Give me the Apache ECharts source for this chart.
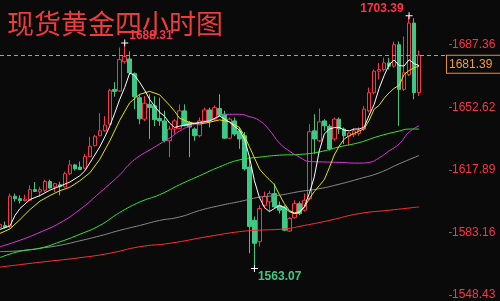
<!DOCTYPE html>
<html><head><meta charset="utf-8">
<script src="https://cdn.jsdelivr.net/npm/echarts@6/dist/echarts.min.js"></script>
<style>html,body{margin:0;padding:0;background:#0a0a0a;}#c{width:500px;height:301px;}</style>
</head><body><div id="c"></div>
<script>
const titleText = '现货黄金四小时图';
const yTicks = [1548.43, 1583.16, 1617.89, 1652.62, 1687.36];
const lastPrice = 1681.39;
const slotCount = 91;
// [open, close, low, high]
const candles = [
[1585.9,1587.6,1584.8,1588.7],[1587.0,1585.9,1585.4,1589.2],[1586.3,1603.2,1585.4,1604.7],[1603.2,1601.9,1600.3,1604.7],
[1601.9,1600.8,1599.1,1603.7],[1600.8,1601.6,1600.3,1604.1],[1601.0,1606.9,1600.6,1609.2],[1606.9,1605.9,1605.6,1611.1],
[1605.6,1606.9,1603.0,1608.5],[1606.5,1611.4,1605.6,1612.4],[1611.4,1607.8,1607.4,1612.4],[1608.4,1610.2,1605.6,1610.7],
[1609.6,1608.5,1603.7,1611.3],[1608.4,1615.7,1608.0,1616.8],[1615.7,1620.6,1615.1,1623.4],[1620.6,1618.4,1617.5,1621.2],
[1619.4,1618.0,1617.9,1622.5],[1618.8,1625.2,1618.4,1626.7],[1625.2,1630.9,1624.9,1636.2],[1631.3,1636.5,1630.9,1637.3],
[1636.8,1639.5,1636.5,1649.3],[1639.5,1642.7,1639.0,1647.6],[1643.2,1662.0,1642.7,1662.9],[1662.5,1661.4,1658.5,1666.5],
[1661.6,1679.0,1661.1,1685.7],[1677.9,1680.7,1676.8,1688.31],[1679.4,1671.7,1670.8,1683.6],[1671.2,1658.4,1651.5,1671.9],
[1657.9,1646.2,1643.2,1659.8],[1646.0,1654.8,1645.0,1658.8],[1654.2,1652.4,1635.0,1659.8],[1653.4,1645.7,1642.1,1658.7],
[1646.4,1645.0,1642.3,1657.9],[1645.0,1634.0,1633.1,1650.6],[1634.0,1640.5,1624.9,1642.3],[1640.5,1645.0,1637.7,1646.0],
[1640.9,1650.6,1640.5,1654.2],[1650.6,1642.3,1642.1,1654.2],[1644.2,1641.6,1624.9,1645.0],[1640.5,1636.8,1634.0,1641.4],
[1636.8,1645.0,1635.9,1646.9],[1645.0,1651.1,1644.3,1652.4],[1651.1,1645.0,1641.4,1652.4],[1646.0,1652.4,1645.0,1653.7],
[1651.9,1648.2,1647.8,1659.8],[1648.7,1635.4,1635.0,1650.6],[1635.4,1646.0,1635.0,1646.9],[1645.0,1637.7,1636.6,1646.9],
[1639.5,1635.0,1629.5,1641.6],[1636.8,1618.4,1617.5,1638.8],[1619.4,1586.5,1571.6,1623.9],[1589.9,1577.1,1563.07,1592.0],
[1578.0,1596.4,1575.3,1598.2],[1598.2,1603.0,1596.4,1605.8],[1600.1,1604.7,1594.7,1606.3],[1604.7,1597.3,1596.4,1610.2],
[1598.2,1595.5,1593.6,1600.3],[1597.3,1584.4,1583.9,1598.2],[1583.9,1590.9,1583.6,1591.8],[1591.3,1599.1,1590.9,1601.0],
[1599.1,1593.6,1592.7,1600.4],[1595.5,1601.0,1594.7,1604.7],[1601.9,1639.0,1601.0,1643.2],[1639.5,1635.0,1626.7,1648.7],
[1634.0,1644.5,1633.1,1651.9],[1645.0,1642.3,1639.5,1646.0],[1642.0,1629.5,1628.5,1643.2],[1635.0,1646.0,1634.0,1646.9],
[1646.0,1640.5,1637.7,1646.9],[1640.5,1636.8,1632.2,1641.4],[1636.5,1638.3,1631.3,1638.7],[1637.3,1639.5,1636.1,1641.0],
[1638.1,1639.9,1636.8,1641.4],[1640.5,1651.5,1639.5,1653.3],[1650.6,1660.7,1649.7,1663.5],[1660.7,1672.6,1659.8,1673.5],
[1672.6,1673.5,1668.0,1677.2],[1673.5,1677.2,1672.4,1680.1],[1677.2,1675.4,1673.5,1680.0],[1675.4,1687.3,1674.5,1689.1],
[1687.3,1662.5,1642.3,1689.1],[1662.5,1671.7,1661.6,1691.9],[1670.8,1699.3,1669.8,1703.39],[1699.3,1660.7,1657.0,1702.0],
[1660.7,1681.39,1658.8,1684.0]
];
const maWhite = [[0,1584.8],[2,1586.8],[3,1592.5],[4,1596.4],[5,1598.9],[6,1601.4],[8,1603.6],[10,1606.6],[12,1608.8],[14,1611.1],[16,1614.6],[17,1617.3],[18,1621.7],[19,1626.1],[20,1630.6],[21,1636.1],[22,1642.1],[23,1649.3],[24,1657.0],[25,1663.6],[26,1671.6],[27,1670.2],[28,1666.4],[29,1662.0],[30,1657.0],[31,1653.1],[32,1649.8],[33,1647.6],[34,1643.8],[35,1641.4],[36,1642.1],[38,1643.2],[40,1644.2],[42,1645.0],[44,1647.8],[46,1644.3],[48,1639.9],[49,1635.0],[50,1625.0],[51,1611.8],[52,1602.5],[53,1597.0],[54,1594.7],[55,1596.4],[56,1598.0],[57,1597.0],[58,1594.7],[59,1593.6],[60,1594.2],[61,1597.5],[62,1604.7],[63,1614.0],[64,1628.4],[65,1637.7],[66,1640.5],[67,1641.3],[68,1641.4],[69,1639.9],[70,1639.5],[71,1640.5],[72,1640.5],[73,1641.6],[74,1648.2],[75,1654.2],[76,1663.1],[77,1670.2],[78,1676.3],[79,1678.8],[80,1675.7],[81,1675.5],[82,1679.0],[83,1676.8],[84,1675.7]];
const maYellow = [[0,1582.6],[2,1585.1],[4,1590.3],[6,1595.8],[8,1600.5],[10,1603.6],[12,1606.3],[14,1608.2],[16,1611.8],[18,1616.2],[20,1623.7],[22,1633.9],[24,1645.4],[26,1655.1],[28,1659.8],[30,1661.4],[32,1659.5],[34,1653.7],[35,1650.4],[36,1646.5],[38,1644.2],[40,1643.2],[42,1644.3],[44,1645.6],[46,1644.5],[48,1641.4],[49,1636.6],[50,1630.6],[51,1624.5],[52,1618.4],[53,1615.1],[54,1612.4],[55,1609.6],[56,1604.1],[57,1599.1],[58,1595.3],[59,1594.0],[60,1594.7],[61,1596.9],[62,1601.9],[63,1605.8],[64,1609.1],[65,1612.4],[66,1619.0],[67,1626.1],[68,1631.1],[69,1635.0],[70,1636.8],[72,1639.4],[73,1640.7],[74,1645.4],[75,1651.5],[76,1653.7],[77,1657.6],[78,1660.6],[79,1663.1],[80,1664.7],[81,1670.8],[82,1673.0],[83,1674.5],[84,1675.4]];
const maMagenta = [[0,1575.2],[4,1578.8],[8,1583.2],[12,1588.4],[16,1595.8],[20,1605.2],[24,1615.1],[26,1621.2],[28,1625.6],[30,1628.9],[32,1632.2],[34,1635.5],[36,1639.4],[38,1642.1],[40,1643.8],[42,1645.0],[44,1647.4],[46,1648.7],[48,1648.7],[50,1647.4],[52,1645.2],[54,1639.9],[56,1632.8],[58,1628.3],[60,1625.0],[62,1622.5],[64,1622.3],[68,1622.0],[72,1621.6],[74,1622.0],[76,1624.5],[78,1628.4],[80,1632.2],[82,1638.8],[84,1642.3]];
const maGreen = [[0,1569.2],[4,1572.7],[8,1574.35],[12,1577.9],[16,1582.1],[20,1587.0],[24,1594.2],[28,1600.0],[32,1604.1],[36,1609.6],[40,1614.6],[44,1619.5],[48,1623.4],[52,1624.9],[56,1626.0],[60,1626.4],[64,1627.8],[68,1630.6],[72,1633.0],[76,1636.6],[80,1639.4],[82,1640.5],[84,1640.5]];
const maGray = [[0,1572.5],[4,1572.97],[8,1574.35],[12,1576.0],[16,1578.5],[20,1581.2],[24,1584.3],[28,1587.0],[32,1589.8],[36,1591.7],[40,1595.3],[44,1598.0],[48,1600.25],[52,1602.7],[56,1603.8],[60,1605.8],[64,1607.4],[68,1609.9],[72,1612.9],[76,1616.2],[80,1621.2],[84,1625.8]];
const maRed = [[0,1563.9],[8,1566.6],[16,1569.1],[22,1571.6],[28,1575.2],[34,1577.1],[42,1581.0],[48,1583.55],[52,1584.4],[57,1585.1],[61,1587.0],[66,1589.8],[72,1593.6],[78,1595.45],[84,1597.3]];
const extremes = [
  {idx: 82, value: 1703.39, kind: 'high'},
  {idx: 25, value: 1688.31, kind: 'high2'},
  {idx: 51, value: 1563.07, kind: 'low'}
];

const RED = '#ff3348', GREEN = '#3dc985', BG = '#0a0a0a';
const categories = Array.from({length: slotCount}, (_, i) => String(i));
const labelStyles = {
  high: {position: 'left', distance: 2, offset: [0, -7], color: RED},
  high2: {position: 'right', distance: 1, offset: [0, -7], color: RED},
  low: {position: 'right', distance: 0, offset: [0, 8], color: GREEN}
};
const chart = echarts.init(document.getElementById('c'));
const lineSeries = (data, color, smooth) => ({
  type: 'line', data, symbol: 'none', smooth, silent: true, z: 3,
  lineStyle: {color, width: 1}
});
chart.setOption({
  backgroundColor: BG,
  animation: false,
  title: {text: titleText, left: 7, top: 10, padding: 0,
    textStyle: {color: '#ee3b3b', fontSize: 27, fontWeight: 'normal', fontFamily: 'Noto Sans CJK SC'}},
  grid: {left: -1, right: 51, top: 0, bottom: 0},
  xAxis: {type: 'category', data: categories, boundaryGap: false, show: false},
  yAxis: {type: 'value', position: 'right', min: 1546.25, max: 1712.1, scale: true,
    splitLine: {show: false}, axisLine: {show: false},
    axisTick: {show: true, length: 3, customValues: yTicks, lineStyle: {color: '#666'}},
    axisLabel: {customValues: yTicks, formatter: v => v.toFixed(2), color: RED, fontSize: 12,
      fontFamily: 'Liberation Sans, Arial', margin: 3}},
  series: [
    {type: 'candlestick', data: candles, barWidth: 4, z: 2,
     itemStyle: {color: BG, color0: GREEN, borderColor: RED, borderColor0: GREEN, borderWidth: 1},
     markLine: {silent: true, symbol: ['none', 'none'], data: [{yAxis: lastPrice}],
       lineStyle: {color: '#e8902c', type: [4, 3], width: 1},
       label: {show: true, position: 'end', formatter: lastPrice.toFixed(2), color: '#f0a030', fontSize: 12,
         fontFamily: 'Liberation Sans, Arial', backgroundColor: BG, borderColor: '#e8902c', borderWidth: 1,
         padding: [3, 10, 2, 2], distance: 0, offset: [-2, 9]}},
     markPoint: {silent: true, symbol: 'path://M0,3H7V4H0Z M3,0H4V7H3Z', symbolSize: 7,
       itemStyle: {color: '#ffffff'},
       data: extremes.map(e => ({coord: [e.idx, e.value], value: e.value,
         label: Object.assign({show: true, formatter: e.value.toFixed(2), fontSize: 12, fontWeight: 'bold',
           fontFamily: 'Liberation Sans, Arial'}, labelStyles[e.kind])}))}
    },
    lineSeries(maRed, '#ff3030', true),
    lineSeries(maGray, '#8a8a8a', true),
    lineSeries(maGreen, '#33e633', true),
    lineSeries(maMagenta, '#e033e0', true),
    lineSeries(maYellow, '#e6e600', false),
    lineSeries(maWhite, '#ffffff', false)
  ]
});
</script></body></html>
